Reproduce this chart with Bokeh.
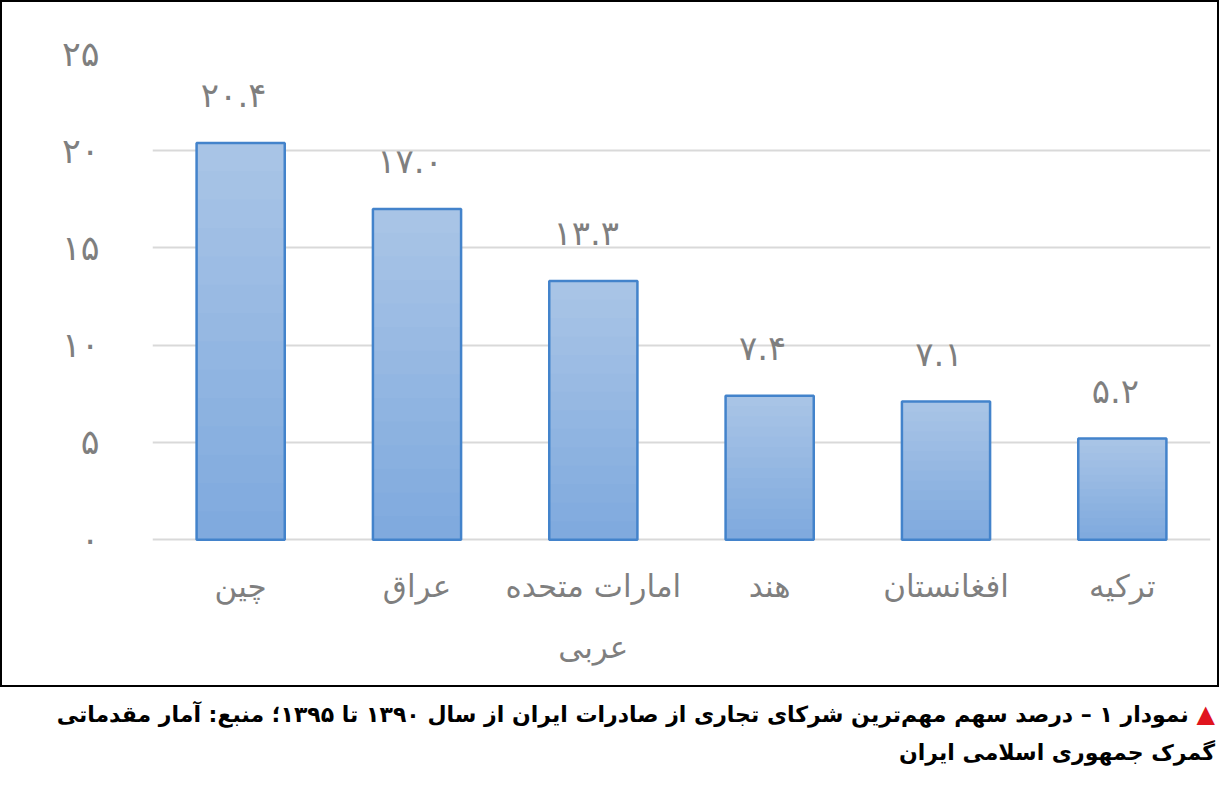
from bokeh.plotting import figure
from bokeh.models import (ColumnDataSource, FactorRange, Range1d, FixedTicker,
                          LabelSet, Div)
from bokeh.layouts import column
from bokeh.core.properties import value
from bokeh.embed import file_html
from bokeh.resources import INLINE

# ---- data ----
countries = ["چین", "عراق", "امارات متحده عربی", "هند", "افغانستان", "ترکیه"]
country_labels = ["چین", "عراق", "امارات متحده\nعربی", "هند", "افغانستان", "ترکیه"]
shares = [20.4, 17.0, 13.3, 7.4, 7.1, 5.2]
share_labels = ["۲۰.۴", "۱۷.۰", "۱۳.۳", "۷.۴", "۷.۱", "۵.۲"]
y_ticks = [0, 5, 10, 15, 20, 25]
y_tick_labels = ["۰", "۵", "۱۰", "۱۵", "۲۰", "۲۵"]
caption_line1 = "نمودار ۱ – درصد سهم مهم‌ترین شرکای تجاری از صادرات ایران از سال ۱۳۹۰ تا ۱۳۹۵؛ منبع: آمار مقدماتی"
caption_line2 = "گمرک جمهوری اسلامی ایران"

FONT = "DejaVu Sans"
GRAY = "#7f7f7f"

p = figure(x_range=FactorRange(*countries, range_padding=0),
           y_range=Range1d(-7.45, 25),
           width=1215, height=683,
           min_border_left=150, min_border_right=7,
           min_border_top=51, min_border_bottom=1,
           output_backend="svg", toolbar_location=None,
           background_fill_color="white", border_fill_color="white")
p.outline_line_color = None

# gradient-like bars: nested bars, lighter on top, darker toward the base
top_rgb = (168, 196, 230)
bot_rgb = (128, 170, 222)
N = 14
for k in range(N):
    t = k / (N - 1)
    col = "#%02x%02x%02x" % tuple(int(round(a + (b - a) * t)) for a, b in zip(top_rgb, bot_rgb))
    frac = (N - k) / N
    src_k = ColumnDataSource(dict(x=countries, top=[v * frac for v in shares]))
    p.vbar(x="x", top="top", width=0.5, source=src_k, fill_color=col, line_color=None)

src = ColumnDataSource(dict(x=countries, top=shares, lab=share_labels,
                            name=country_labels, base=[0] * len(countries)))
p.vbar(x="x", top="top", width=0.5, source=src, fill_color=None,
       line_color="#4383cb", line_width=2.5)

labels = LabelSet(x="x", y="top", text="lab", source=src, y_offset=48, x_offset=-7,
                  text_align="center", text_baseline="middle",
                  text_font=value(FONT), text_font_size="34px", text_color=GRAY)
p.add_layout(labels)

# category labels (multi-line for the long one)
p.text(x="x", y="base", text="name", source=src, y_offset=28,
       text_align="center", text_baseline="top", text_line_height=1.7,
       text_font=value(FONT), text_font_size="31px", text_color=GRAY)

# axes
p.xaxis.visible = False
p.yaxis.ticker = FixedTicker(ticks=y_ticks)
p.yaxis.major_label_overrides = {t: l for t, l in zip(y_ticks, y_tick_labels)}
p.yaxis.axis_line_color = None
p.yaxis.major_tick_line_color = None
p.yaxis.minor_tick_line_color = None
p.yaxis.major_label_standoff = 47
p.yaxis.major_label_text_font = FONT
p.yaxis.major_label_text_font_size = "35px"
p.yaxis.major_label_text_color = GRAY

p.xgrid.grid_line_color = None
p.ygrid.grid_line_color = "#d9d9d9"
p.ygrid.grid_line_width = 2

framed = column(p, styles={"border": "2px solid black"})

cap = Div(text=(
    '<div style="width:1210px;direction:rtl;text-align:right;font-family:\'DejaVu Sans\';'
    'font-weight:bold;font-size:22px;line-height:38px;color:#000;padding-top:3px;">'
    '<span style="color:#e0141e;font-size:24px;">&#9650;</span> ' + caption_line1 + '<br>' + caption_line2 +
    '</div>'), width=1219)

layout = column(framed, cap, spacing=0)
open("out.html", "w").write(file_html(layout, INLINE))
